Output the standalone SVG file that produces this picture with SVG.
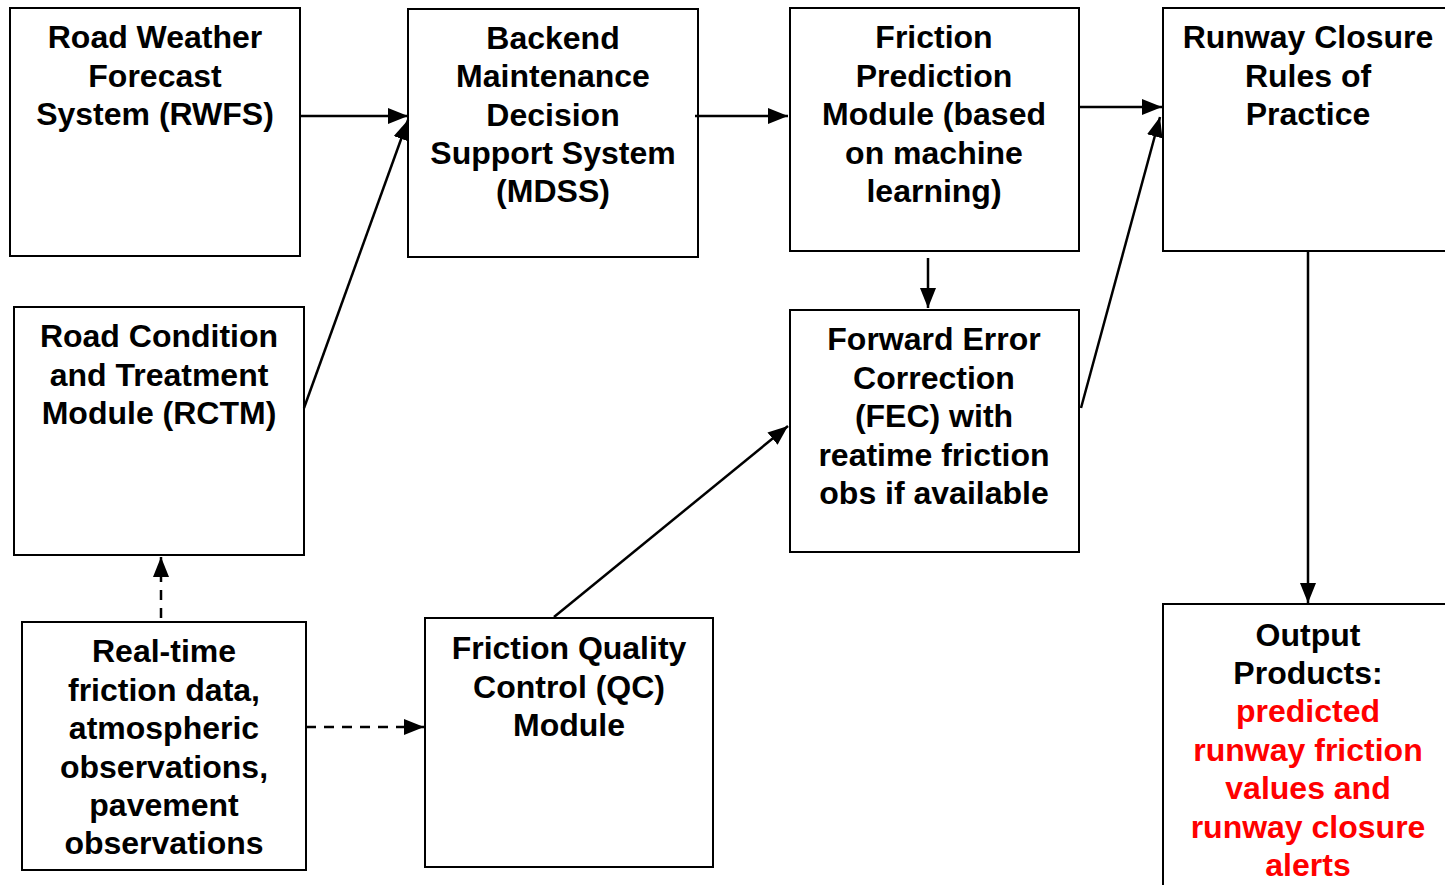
<svg xmlns="http://www.w3.org/2000/svg" width="1445" height="885" viewBox="0 0 1445 885">
<style>
.box{fill:#fff;stroke:#000;stroke-width:2}
.t{font-family:"Liberation Sans",Arial,sans-serif;font-weight:bold;font-size:32px;text-anchor:middle;fill:#000}
.red{fill:#f00}
.c{stroke:#000;stroke-width:2.5;fill:none}
.d{stroke-dasharray:10,8}
</style>
<defs>
<marker id="ah" markerUnits="userSpaceOnUse" markerWidth="20" markerHeight="16" refX="20" refY="8" orient="auto">
<path d="M0,0 L20,8 L0,16 z" fill="#000"/>
</marker>
</defs>
<rect width="1445" height="885" fill="#fff"/>
<g id="rwfs"><rect class="box" x="10" y="8" width="290" height="248"/>
<text class="t" transform="translate(0,1)"><tspan x="155" y="47">Road Weather</tspan><tspan x="155" y="86">Forecast</tspan><tspan x="155" y="124">System (RWFS)</tspan></text></g>
<g id="mdss"><rect class="box" x="408" y="9" width="290" height="248"/>
<text class="t" transform="translate(0,1)"><tspan x="553" y="48">Backend</tspan><tspan x="553" y="86">Maintenance</tspan><tspan x="553" y="125">Decision</tspan><tspan x="553" y="163">Support System</tspan><tspan x="553" y="201">(MDSS)</tspan></text></g>
<g id="fpm"><rect class="box" x="790" y="8" width="289" height="243"/>
<text class="t" transform="translate(0,1)"><tspan x="934" y="47">Friction</tspan><tspan x="934" y="86">Prediction</tspan><tspan x="934" y="124">Module (based</tspan><tspan x="934" y="163">on machine</tspan><tspan x="934" y="201">learning)</tspan></text></g>
<g id="runway"><rect class="box" x="1163" y="8" width="286" height="243"/>
<text class="t" transform="translate(0,1)"><tspan x="1308" y="47">Runway Closure</tspan><tspan x="1308" y="86">Rules of</tspan><tspan x="1308" y="124">Practice</tspan></text></g>
<g id="rctm"><rect class="box" x="14" y="307" width="290" height="248"/>
<text class="t" transform="translate(0,1)"><tspan x="159" y="346">Road Condition</tspan><tspan x="159" y="385">and Treatment</tspan><tspan x="159" y="423">Module (RCTM)</tspan></text></g>
<g id="fec"><rect class="box" x="790" y="310" width="289" height="242"/>
<text class="t" transform="translate(0,1)"><tspan x="934" y="349">Forward Error</tspan><tspan x="934" y="388">Correction</tspan><tspan x="934" y="426">(FEC) with</tspan><tspan x="934" y="465">reatime friction</tspan><tspan x="934" y="503">obs if available</tspan></text></g>
<g id="realtime"><rect class="box" x="22" y="622" width="284" height="248"/>
<text class="t" transform="translate(0,1)"><tspan x="164" y="661">Real-time</tspan><tspan x="164" y="700">friction data,</tspan><tspan x="164" y="738">atmospheric</tspan><tspan x="164" y="777">observations,</tspan><tspan x="164" y="815">pavement</tspan><tspan x="164" y="853">observations</tspan></text></g>
<g id="qc"><rect class="box" x="425" y="618" width="288" height="249"/>
<text class="t" transform="translate(0,1)"><tspan x="569" y="658">Friction Quality</tspan><tspan x="569" y="697">Control (QC)</tspan><tspan x="569" y="735">Module</tspan></text></g>
<g id="output"><rect class="box" x="1163" y="604" width="286" height="290"/>
<text class="t" transform="translate(0,1)"><tspan x="1308" y="645">Output</tspan><tspan x="1308" y="683">Products:</tspan><tspan class="red" x="1308" y="721">predicted</tspan><tspan class="red" x="1308" y="760">runway friction</tspan><tspan class="red" x="1308" y="798">values and</tspan><tspan class="red" x="1308" y="837">runway closure</tspan><tspan class="red" x="1308" y="875">alerts</tspan></text></g>
<g id="connectors">
<line class="c" x1="300" y1="116" x2="408" y2="116" marker-end="url(#ah)"/>
<line class="c" x1="304" y1="408" x2="408" y2="120" marker-end="url(#ah)"/>
<line class="c" x1="695" y1="116" x2="788" y2="116" marker-end="url(#ah)"/>
<line class="c" x1="928" y1="258" x2="928" y2="308" marker-end="url(#ah)"/>
<line class="c" x1="1079" y1="107" x2="1162" y2="107" marker-end="url(#ah)"/>
<line class="c" x1="1081" y1="408" x2="1160" y2="117" marker-end="url(#ah)"/>
<line class="c" x1="1308" y1="251" x2="1308" y2="603" marker-end="url(#ah)"/>
<line class="c d" x1="161" y1="618" x2="161" y2="557" marker-end="url(#ah)"/>
<line class="c d" x1="306" y1="727" x2="424" y2="727" marker-end="url(#ah)"/>
<line class="c" x1="554" y1="617" x2="788" y2="426" marker-end="url(#ah)"/>
</g>
</svg>
